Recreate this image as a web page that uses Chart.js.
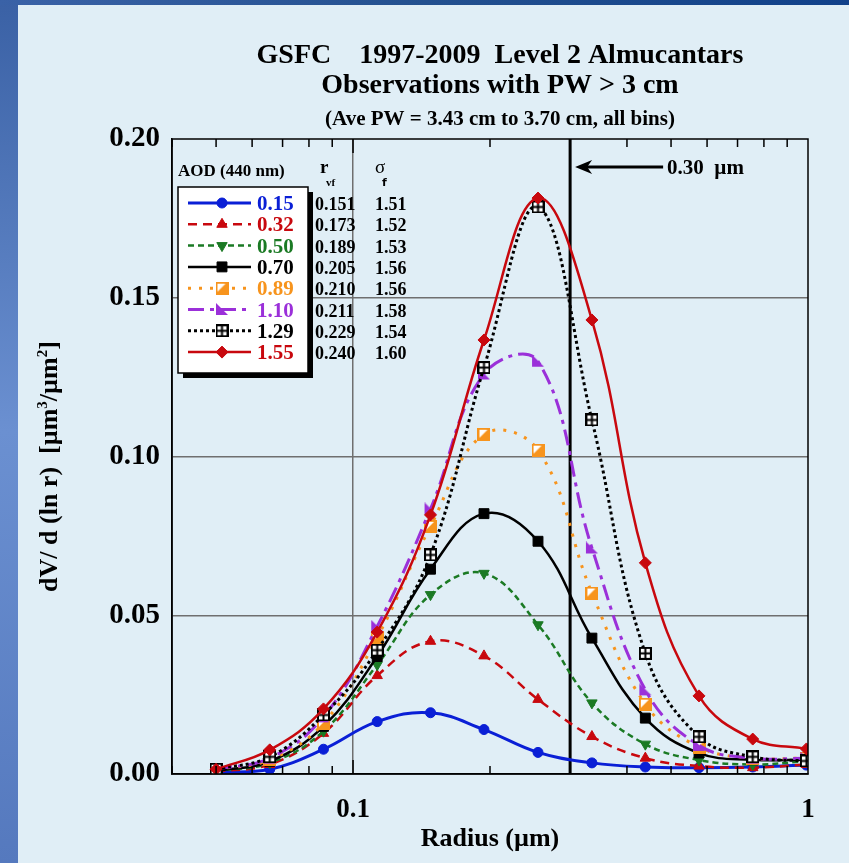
<!DOCTYPE html>
<html><head><meta charset="utf-8">
<script src="https://cdn.jsdelivr.net/npm/chart.js@4.4.1/dist/chart.umd.min.js"></script>
<style>html,body{margin:0;padding:0;background:#E0EEF6;overflow:hidden}canvas{display:block}</style>
</head><body>
<canvas id="c" width="849" height="863" style="width:849px;height:863px"></canvas>
<script>
// ---- data ----
const radius = [0.05, 0.0656, 0.0861, 0.113, 0.148, 0.194, 0.255, 0.335, 0.439, 0.576, 0.756, 0.992];
const aodLabels = ['0.15', '0.32', '0.50', '0.70', '0.89', '1.10', '1.29', '1.55'];
const rvf = ['0.151', '0.173', '0.189', '0.205', '0.210', '0.211', '0.229', '0.240'];
const sigmaF = ['1.51', '1.52', '1.53', '1.56', '1.56', '1.58', '1.54', '1.60'];
const aod015 = [0.0005, 0.0015, 0.0078, 0.0165, 0.0193, 0.0140, 0.0068, 0.0035, 0.0022, 0.0020, 0.0022, 0.0028];
const aod032 = [0.0008, 0.0030, 0.0128, 0.0310, 0.0418, 0.0372, 0.0235, 0.0118, 0.0050, 0.0025, 0.0020, 0.0030];
const aod050 = [0.0010, 0.0035, 0.0135, 0.0344, 0.0565, 0.0632, 0.0470, 0.0224, 0.0094, 0.0044, 0.0030, 0.0040];
const aod070 = [0.0010, 0.0040, 0.0150, 0.0370, 0.0645, 0.0820, 0.0733, 0.0428, 0.0176, 0.0066, 0.0045, 0.0045];
const aod089 = [0.0015, 0.0045, 0.0160, 0.0430, 0.0780, 0.1070, 0.1020, 0.0570, 0.0220, 0.0085, 0.0050, 0.0050];
const aod110 = [0.0015, 0.0050, 0.0180, 0.0465, 0.0835, 0.1260, 0.1300, 0.0712, 0.0265, 0.0090, 0.0050, 0.0050];
const aod129 = [0.0015, 0.0054, 0.0186, 0.0390, 0.0690, 0.1280, 0.1786, 0.1115, 0.0380, 0.0117, 0.0054, 0.0041];
const aod155 = [0.0015, 0.0076, 0.0205, 0.0447, 0.0816, 0.1367, 0.1814, 0.1430, 0.0665, 0.0246, 0.0110, 0.0079];
const xTickValues = [0.1, 1];
const yTickStep = 0.05;
const markerRadius = 0.30;

// ---- custom markers ----
function mk(w, h, fn) { const c = document.createElement('canvas'); c.width = w; c.height = h; fn(c.getContext('2d')); return c; }
const orangeSq = mk(13, 13, g => {
  g.fillStyle = '#F7941D'; g.fillRect(0, 0, 13, 13);
  g.fillStyle = '#ffffff'; g.beginPath(); g.moveTo(2, 2); g.lineTo(10, 2); g.lineTo(2, 10); g.closePath(); g.fill();
});
const crossSq = mk(13, 13, g => {
  g.fillStyle = '#ffffff'; g.fillRect(0, 0, 13, 13);
  g.strokeStyle = '#000'; g.lineWidth = 2; g.strokeRect(1, 1, 11, 11);
  g.beginPath(); g.moveTo(6.5, 1); g.lineTo(6.5, 12); g.moveTo(1, 6.5); g.lineTo(12, 6.5); g.stroke();
});
const purpleTri = mk(14, 13, g => {
  g.fillStyle = '#9B30D9'; g.beginPath(); g.moveTo(1, 0); g.lineTo(1, 12); g.lineTo(13, 12); g.closePath(); g.fill();
});

const series = [
  { data: aod015, color: '#0A1FD6', dash: [], width: 3, style: 'circle', r: 5, rot: 0, text: '#0A1FD6' },
  { data: aod032, color: '#C8080E', dash: [9, 6], width: 2.5, style: 'triangle', r: 6, rot: 0, text: '#C8080E' },
  { data: aod050, color: '#1B7A24', dash: [6, 4], width: 2.5, style: 'triangle', r: 6, rot: 180, text: '#1B7A24' },
  { data: aod070, color: '#000000', dash: [], width: 2.5, style: 'rect', r: 7, rot: 0, text: '#000000' },
  { data: aod089, color: '#F7941D', dash: [3, 8], width: 3, style: orangeSq, r: 6, rot: 0, text: '#F7941D' },
  { data: aod110, color: '#9B30D9', dash: [16, 6, 4, 6], width: 3, style: purpleTri, r: 6, rot: 0, text: '#9B30D9' },
  { data: aod129, color: '#000000', dash: [3, 3], width: 3, style: crossSq, r: 6, rot: 0, text: '#000000' },
  { data: aod155, color: '#C8080E', dash: [], width: 2.5, style: 'rectRot', r: 6, rot: 0, text: '#C8080E' }
];

const datasets = series.map((s, i) => ({
  label: aodLabels[i],
  data: radius.map((x, j) => ({ x: x, y: s.data[j] })),
  borderColor: s.color, backgroundColor: s.color,
  pointBackgroundColor: s.color, pointBorderColor: s.color,
  borderWidth: s.width, borderDash: s.dash,
  pointStyle: s.style, pointRadius: s.r, pointRotation: s.rot, pointBorderWidth: 1,
  tension: 0.4, fill: false, order: 8 - i
}));

const SERIF = '"Liberation Serif", "Times New Roman", serif';

function txt(ctx, s, x, y, font, color, align) {
  ctx.save(); ctx.font = font; ctx.fillStyle = color; ctx.textAlign = align || 'left'; ctx.textBaseline = 'alphabetic';
  ctx.fillText(s, x, y); ctx.restore();
}

const decor = {
  id: 'decor',
  beforeDraw(chart) {
    const ctx = chart.ctx, W = chart.width, H = chart.height;
    ctx.save();
    ctx.fillStyle = '#E0EEF6'; ctx.fillRect(0, 0, W, H);
    let g = ctx.createLinearGradient(0, 0, 0, H);
    g.addColorStop(0, '#3A61A5'); g.addColorStop(0.5, '#6B90D1'); g.addColorStop(1, '#5579BE');
    ctx.fillStyle = g; ctx.fillRect(0, 0, 18, H);
    g = ctx.createLinearGradient(0, 0, W, 0);
    g.addColorStop(0, '#3A62A7'); g.addColorStop(0.5, '#23508F'); g.addColorStop(1, '#11418A');
    ctx.fillStyle = g; ctx.fillRect(0, 0, W, 5);
    ctx.restore();
  },
  beforeDatasetsDraw(chart) {
    const ctx = chart.ctx, a = chart.chartArea, xs = chart.scales.x;
    const px = xs.getPixelForValue(markerRadius);
    ctx.save(); ctx.strokeStyle = '#000'; ctx.lineWidth = 3;
    ctx.beginPath(); ctx.moveTo(px, a.top); ctx.lineTo(px, a.bottom); ctx.stroke();
    ctx.restore();
  },
  afterDraw(chart) {
    const ctx = chart.ctx, a = chart.chartArea, xs = chart.scales.x;
    ctx.save();
    // frame
    ctx.strokeStyle = '#000'; ctx.lineWidth = 1.5;
    ctx.strokeRect(a.left, a.top, a.right - a.left, a.bottom - a.top);
    // minor log ticks top & bottom
    const minors = [];
    for (let d of [0.01, 0.1]) for (let k = 1; k <= 9; k++) { const v = d * k; if (v >= 0.04 && v <= 1.0001) minors.push(v); }
    ctx.lineWidth = 1.5;
    minors.forEach(v => {
      const p = xs.getPixelForValue(v);
      const len = (Math.abs(v - 0.1) < 1e-9) ? 14 : 8;
      ctx.beginPath(); ctx.moveTo(p, a.bottom); ctx.lineTo(p, a.bottom - len);
      ctx.moveTo(p, a.top); ctx.lineTo(p, a.top + len); ctx.stroke();
    });
    // arrow annotation
    const px = xs.getPixelForValue(markerRadius);
    const y0 = a.top + 28;
    ctx.lineWidth = 3; ctx.beginPath(); ctx.moveTo(px + 14, y0); ctx.lineTo(px + 93, y0); ctx.stroke();
    ctx.fillStyle = '#000'; ctx.beginPath();
    ctx.moveTo(px + 5, y0); ctx.lineTo(px + 22, y0 - 7); ctx.lineTo(px + 17, y0); ctx.lineTo(px + 22, y0 + 7); ctx.closePath(); ctx.fill();
    txt(ctx, '0.30  \u00b5m', px + 97, y0 + 7, 'bold 21px ' + SERIF, '#000');
    // legend header
    txt(ctx, 'AOD (440 nm)', a.left + 6, a.top + 37, 'bold 17px ' + SERIF, '#000');
    txt(ctx, 'r', 320, a.top + 34, 'bold 19px ' + SERIF, '#000');
    txt(ctx, 'vf', 326, a.top + 47, 'bold 11px ' + SERIF, '#000');
    txt(ctx, '\u03c3', 375, a.top + 34, '19px ' + SERIF, '#000');
    txt(ctx, 'f', 382, a.top + 47, 'bold 11px "DejaVu Sans", sans-serif', '#000');
    // legend box
    const bx = 178, by = 187, bw = 130, bh = 186;
    ctx.fillStyle = '#000'; ctx.fillRect(bx + 5, by + 5, bw, bh);
    ctx.fillStyle = '#fff'; ctx.fillRect(bx, by, bw, bh);
    ctx.lineWidth = 1.5; ctx.strokeStyle = '#000'; ctx.strokeRect(bx, by, bw, bh);
    const rowH = 21.3, r0 = by + 16;
    chart.data.datasets.forEach((ds, i) => {
      const s = series[i], y = r0 + i * rowH;
      ctx.save(); ctx.strokeStyle = s.color; ctx.lineWidth = s.width; ctx.setLineDash(s.dash);
      ctx.beginPath(); ctx.moveTo(bx + 10, y); ctx.lineTo(bx + 73, y); ctx.stroke(); ctx.restore();
      ctx.save(); ctx.fillStyle = s.color; ctx.strokeStyle = s.color; ctx.lineWidth = 1;
      Chart.helpers.drawPoint(ctx, { pointStyle: s.style, radius: s.r, rotation: s.rot, borderWidth: 1 }, bx + 44, y);
      ctx.restore();
      txt(ctx, aodLabels[i], bx + 79, y + 7, 'bold 21px ' + SERIF, s.text);
      txt(ctx, rvf[i], 315, y + 7, 'bold 18px ' + SERIF, '#000');
      txt(ctx, sigmaF[i], 375, y + 7, 'bold 18px ' + SERIF, '#000');
    });
    // titles
    const cx = 500;
    txt(ctx, 'GSFC    1997-2009  Level 2 Almucantars', cx, 63, 'bold 28px ' + SERIF, '#000', 'center');
    txt(ctx, 'Observations with PW > 3 cm', cx, 93, 'bold 28px ' + SERIF, '#000', 'center');
    txt(ctx, '(Ave PW = 3.43 cm to 3.70 cm, all bins)', cx, 125, 'bold 21px ' + SERIF, '#000', 'center');
    // x title
    txt(ctx, 'Radius (\u00b5m)', (a.left + a.right) / 2, 846, 'bold 26px ' + SERIF, '#000', 'center');
    // y title (rotated, with superscripts)
    ctx.save();
    ctx.translate(57, (a.top + a.bottom) / 2 + 10);
    ctx.rotate(-Math.PI / 2);
    const parts = [['dV/ d (ln r)  [\u00b5m', 0], ['3', 1], ['/\u00b5m', 0], ['2', 1], [']', 0]];
    let total = 0;
    parts.forEach(p => { ctx.font = p[1] ? 'bold 15px ' + SERIF : 'bold 26px ' + SERIF; total += ctx.measureText(p[0]).width; });
    let xx = -total / 2;
    parts.forEach(p => {
      ctx.font = p[1] ? 'bold 15px ' + SERIF : 'bold 26px ' + SERIF;
      ctx.fillStyle = '#000'; ctx.textBaseline = 'alphabetic';
      ctx.fillText(p[0], xx, p[1] ? -10 : 0);
      xx += ctx.measureText(p[0]).width;
    });
    ctx.restore();
    ctx.restore();
  }
};

new Chart(document.getElementById('c'), {
  type: 'line',
  data: { datasets: datasets },
  options: {
    responsive: false, animation: false, devicePixelRatio: 1,
    layout: { padding: { left: 0, top: 139, right: 41, bottom: 0 } },
    plugins: { legend: { display: false }, tooltip: { enabled: false }, title: { display: false } },
    scales: {
      x: {
        type: 'logarithmic', min: 0.04, max: 1,
        afterBuildTicks: s => { s.ticks = xTickValues.map(v => ({ value: v, major: true })); },
        afterFit: s => { s.height = 89; },
        ticks: { autoSkip: false, maxRotation: 0, padding: 20, color: '#000',
          font: { family: SERIF, size: 27, weight: 'bold' },
          callback: v => (v === 0.1 ? '0.1' : (v === 1 ? '1' : '')) },
        grid: { drawTicks: false, lineWidth: 1.5, color: c => (c.tick && Math.abs(c.tick.value - 0.1) < 1e-9) ? '#6F6F6F' : 'rgba(0,0,0,0)' },
        border: { display: true, color: '#000', width: 1.5 }
      },
      y: {
        type: 'linear', min: 0, max: 0.2,
        afterFit: s => { s.width = 172; },
        ticks: { stepSize: yTickStep, padding: 12, color: '#000',
          font: { family: SERIF, size: 29, weight: 'bold' },
          callback: v => Number(v).toFixed(2) },
        grid: { drawTicks: false, lineWidth: 1.5, color: c => (c.tick && c.tick.value > 0.001 && c.tick.value < 0.199) ? '#6F6F6F' : 'rgba(0,0,0,0)' },
        border: { display: true, color: '#000', width: 1.5 }
      }
    }
  },
  plugins: [decor]
});
</script>
</body></html>
